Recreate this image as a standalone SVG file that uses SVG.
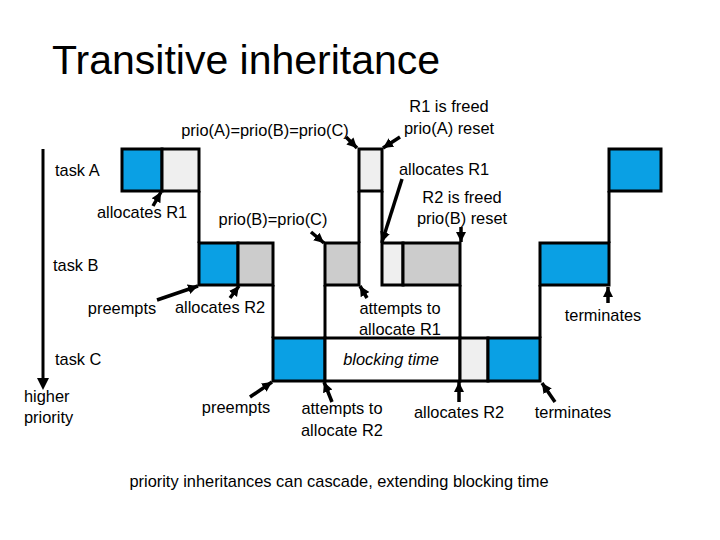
<svg xmlns="http://www.w3.org/2000/svg" width="720" height="540" viewBox="0 0 720 540">
<defs>
<marker id="ah" markerUnits="userSpaceOnUse" markerWidth="12" markerHeight="12" refX="10" refY="6" orient="auto">
<path d="M0,1 L10,6 L0,11 Z" fill="#000"/>
</marker>
<style>
text{font-family:"Liberation Sans",Arial,sans-serif;font-size:16.4px;fill:#000}
.t{font-size:41px}
.blue{fill:#0aa0e4;stroke:#000;stroke-width:3}
.lg{fill:#efefef;stroke:#000;stroke-width:3}
.g{fill:#cccccc;stroke:#000;stroke-width:3}
.w{fill:#fff;stroke:#000;stroke-width:3}
.ln{stroke:#000;stroke-width:3;fill:none}
.ar{stroke:#000;stroke-width:3.5;fill:none;marker-end:url(#ah)}
.m{text-anchor:middle}
</style>
</defs>
<rect width="720" height="540" fill="#fff"/>
<text class="t" x="52" y="74">Transitive inheritance</text>

<g id="connectors">
<line class="ln" x1="43" y1="149" x2="43" y2="380"/>
<path d="M37,378 L43,390 L49,378 Z" fill="#000"/>
<line class="ln" x1="199" y1="191" x2="199" y2="243"/>
<line class="ln" x1="359" y1="191" x2="359" y2="243"/>
<line class="ln" x1="382" y1="191" x2="382" y2="243"/>
<line class="ln" x1="609" y1="191" x2="609" y2="243"/>
<line class="ln" x1="273" y1="285" x2="273" y2="338"/>
<line class="ln" x1="325" y1="285" x2="325" y2="338"/>
<line class="ln" x1="460" y1="285" x2="460" y2="338"/>
<line class="ln" x1="540" y1="285" x2="540" y2="338"/>
<line class="ar" x1="346" y1="137" x2="357" y2="148"/>
<line class="ar" x1="400" y1="137" x2="383" y2="148"/>
<line class="ar" x1="402" y1="179" x2="382" y2="242"/>
<line class="ar" x1="461" y1="227" x2="461" y2="242"/>
<line class="ar" x1="153" y1="206" x2="161" y2="192"/>
<line class="ar" x1="311" y1="232" x2="324" y2="243"/>
<line class="ar" x1="157" y1="300" x2="198" y2="286"/>
<line class="ar" x1="230" y1="298" x2="239" y2="286"/>
<line class="ar" x1="367" y1="298" x2="360" y2="286"/>
<line class="ar" x1="608" y1="303" x2="608" y2="287"/>
<line class="ar" x1="250" y1="397" x2="272" y2="382"/>
<line class="ar" x1="332" y1="402" x2="324" y2="382"/>
<line class="ar" x1="459" y1="402" x2="459" y2="382"/>
<line class="ar" x1="555" y1="402" x2="542" y2="383"/>
</g>

<g id="taskA">
<rect class="blue" x="122" y="149" width="40" height="42"/>
<rect class="lg" x="162" y="149" width="37" height="42"/>
<rect class="lg" x="359" y="149" width="23" height="42"/>
<rect class="blue" x="609" y="149" width="52" height="42"/>
</g>
<g id="taskB">
<rect class="blue" x="199" y="243" width="39" height="42"/>
<rect class="g" x="238" y="243" width="35" height="42"/>
<rect class="g" x="325" y="243" width="34" height="42"/>
<rect class="lg" x="382" y="243" width="21" height="42"/>
<rect class="g" x="403" y="243" width="57" height="42"/>
<rect class="blue" x="540" y="243" width="69" height="42"/>
</g>
<g id="taskC">
<rect class="blue" x="273" y="338" width="52" height="43"/>
<rect class="w" x="325" y="338" width="135" height="43"/>
<rect class="lg" x="460" y="338" width="28" height="43"/>
<rect class="blue" x="488" y="338" width="52" height="43"/>
</g>

<g id="labels">
<text x="55" y="176">task A</text>
<text x="53" y="271">task B</text>
<text x="55" y="365">task C</text>
<text x="24" y="402">higher</text>
<text x="24" y="423">priority</text>
<text class="m" x="265" y="136">prio(A)=prio(B)=prio(C)</text>
<text class="m" x="449" y="112">R1 is freed</text>
<text class="m" x="449" y="134">prio(A) reset</text>
<text class="m" x="444" y="175">allocates R1</text>
<text class="m" x="462" y="203">R2 is freed</text>
<text class="m" x="462" y="224">prio(B) reset</text>
<text class="m" x="142" y="218">allocates R1</text>
<text class="m" x="273" y="225">prio(B)=prio(C)</text>
<text class="m" x="122" y="314">preempts</text>
<text class="m" x="220" y="313">allocates R2</text>
<text class="m" x="400" y="314">attempts to</text>
<text class="m" x="400" y="335">allocate R1</text>
<text class="m" x="603" y="321">terminates</text>
<text class="m" x="391" y="365" font-style="italic">blocking time</text>
<text class="m" x="236" y="413">preempts</text>
<text class="m" x="342" y="414">attempts to</text>
<text class="m" x="342" y="436">allocate R2</text>
<text class="m" x="459" y="418">allocates R2</text>
<text class="m" x="573" y="418">terminates</text>
<text class="m" x="339" y="487">priority inheritances can cascade, extending blocking time</text>
</g>
</svg>
